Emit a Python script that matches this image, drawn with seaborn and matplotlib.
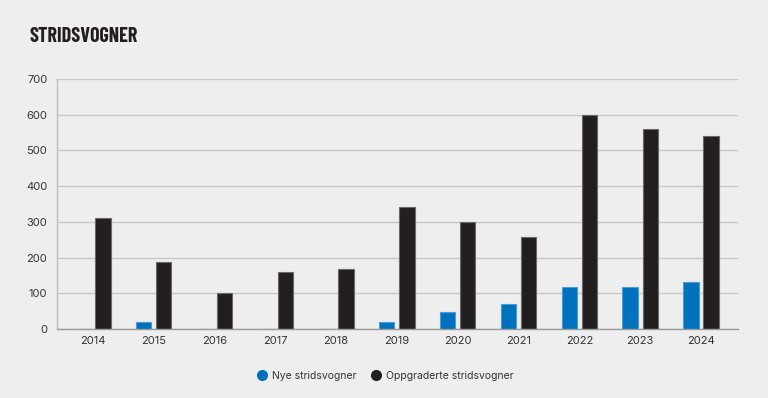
import matplotlib
matplotlib.use("Agg")
import matplotlib.pyplot as plt
import seaborn as sns
import pandas as pd
from matplotlib.lines import Line2D

# Data
years = ["2014", "2015", "2016", "2017", "2018", "2019", "2020", "2021", "2022", "2023", "2024"]
nye = [0, 19, 0, 0, 0, 20, 49, 70, 118, 118, 133]
oppgraderte = [312, 189, 100, 160, 169, 342, 300, 258, 600, 560, 541]
series_names = ["Nye stridsvogner", "Oppgraderte stridsvogner"]
colors = ["#0071BC", "#231F20"]
edge_colors = ["#4A9BD6", "#6A6868"]

df = pd.DataFrame({
    "År": years * 2,
    "Antall": nye + oppgraderte,
    "Type": [series_names[0]] * len(years) + [series_names[1]] * len(years),
})

bg = "#EEEEEE"
sns.set_theme(style="white")
plt.rcParams["font.family"] = ["Inter", "DejaVu Sans"]

fig = plt.figure(figsize=(7.68, 3.98), dpi=100, facecolor=bg)
ax = fig.add_axes([57 / 768, 1 - 329 / 398, 681 / 768, 250 / 398])
ax.set_facecolor(bg)

sns.barplot(data=df, x="År", y="Antall", hue="Type", palette=colors,
            width=0.66, gap=0.24, ax=ax, legend=False, saturation=1)

for cont, ec in zip(ax.containers, edge_colors):
    for p in cont:
        p.set_edgecolor(ec)
        p.set_linewidth(0.8)

ax.set_xlim(-0.59, 10.61)
ax.set_ylim(0, 700)
ax.set_yticks(range(0, 701, 100))
ax.yaxis.grid(True, color="#C8C8C8", linewidth=1)
ax.set_axisbelow(True)
ax.set_xlabel("")
ax.set_ylabel("")

for s in ["top", "right"]:
    ax.spines[s].set_visible(False)
ax.spines["left"].set_color("#BDBDBD")
ax.spines["bottom"].set_color("#9A9A9A")
ax.spines["left"].set_linewidth(1)
ax.spines["bottom"].set_linewidth(1)

ax.tick_params(axis="x", length=4, direction="inout", color="#9A9A9A",
               labelsize=8, labelcolor="#333333", pad=3)
ax.tick_params(axis="y", length=4, color="#BDBDBD", labelsize=8,
               labelcolor="#333333", pad=3)

fig.text(29 / 768, 1 - 37 / 398, "STRIDSVOGNER", fontsize=14.5, fontweight="bold",
         family=["Barlow Condensed", "DejaVu Sans"], color="#231F20",
         va="center", ha="left")

handles = [Line2D([0], [0], marker="o", linestyle="", markersize=7,
                  markerfacecolor=c, markeredgecolor=c) for c in colors]
fig.legend(handles, series_names, loc="center", bbox_to_anchor=(0.5, 1 - 376 / 398),
           ncol=2, frameon=False, fontsize=7.5, handletextpad=0.15,
           handlelength=1.6, columnspacing=1.1, labelcolor="#333333")

fig.savefig("out.png", dpi=100, facecolor=bg)
